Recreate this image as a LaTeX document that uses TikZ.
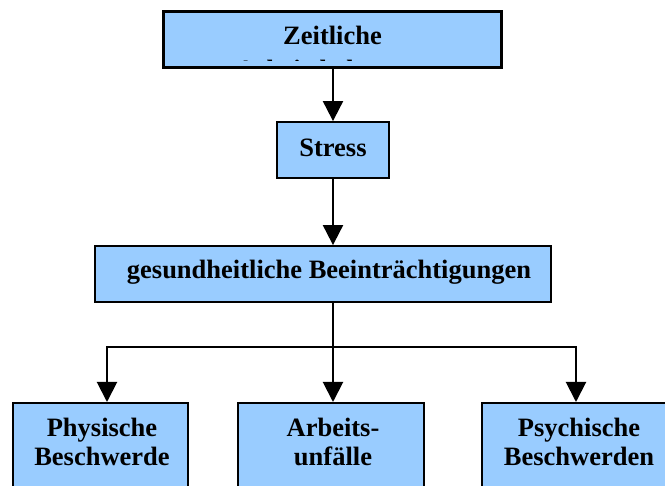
\documentclass[tikz,border=0pt]{standalone}
\usepackage{fontspec}
\setmainfont{Liberation Serif}
\usetikzlibrary{arrows.meta}
\definecolor{boxblue}{HTML}{99CCFF}
\tikzset{
  box/.style={draw=black, line width=1.8pt, fill=boxblue, inner sep=0pt},
  txt/.style={font=\fontsize{26.5}{29}\selectfont\bfseries, inner sep=0pt, align=center},
  conn/.style={line width=2pt, -{Triangle[width=20pt,length=20pt]}},
  plain/.style={line width=2pt}
}
\begin{document}
\begin{tikzpicture}[x=1pt,y=-1pt]
\useasboundingbox (0,0) rectangle (665,486);
\clip (0,0) rectangle (665,486);
% top box
\node[box, minimum width=337pt, minimum height=55pt] (zeit) at (332.5,39.5) {};
\begin{scope}
  \clip (zeit.west |- 0,14) rectangle (zeit.east |- 0,61);
  \node[txt, anchor=base] (zeitA) at (332.5,45) {Zeitliche};
  \node[txt, anchor=base] (zeitB) at (332.5,79) {Arbeitsbelastung};
\end{scope}
\draw[line width=1.8pt] (zeit.south west) rectangle (zeit.north east);
% stress
\node[box, minimum width=112pt, minimum height=56pt] (stress) at (333,150) {};
\node[txt, anchor=base] (stressT) at (333,157) {Stress};
% gesundheitliche
\node[box, minimum width=456pt, minimum height=56pt] (ges) at (323,274) {};
\node[txt, anchor=base] (gesT) at (329,279) {gesundheitliche Beeinträchtigungen};
% bottom boxes
\node[box, minimum width=175pt, minimum height=110pt, anchor=north] (phys) at (100.5,402) {};
\node[txt, anchor=base] (physA) at (102,437) {Physische};
\node[txt, anchor=base] (physB) at (102,466) {Beschwerde};
\node[box, minimum width=186pt, minimum height=110pt, anchor=north] (arb) at (331,402) {};
\node[txt, anchor=base] (arbA) at (333,437) {Arbeits-};
\node[txt, anchor=base] (arbB) at (333,466) {unfälle};
\node[box, minimum width=194pt, minimum height=110pt, anchor=north] (psy) at (579,402) {};
\node[txt, anchor=base] (psyA) at (579,437) {Psychische};
\node[txt, anchor=base] (psyB) at (579,466) {Beschwerden};
% connectors
\coordinate (split) at (333,347);
\draw[conn] (zeit.south -| stress.north) -- (stress.north);
\draw[conn] (stress.south) -- (stress.south |- ges.north);
\draw[plain] (stress.south |- ges.south) -- (split);
\draw[conn] (split) -| (107,402);
\draw[conn] (split) -| (576,402);
\draw[conn] (split) -- (333,402);
\end{tikzpicture}
\end{document}
